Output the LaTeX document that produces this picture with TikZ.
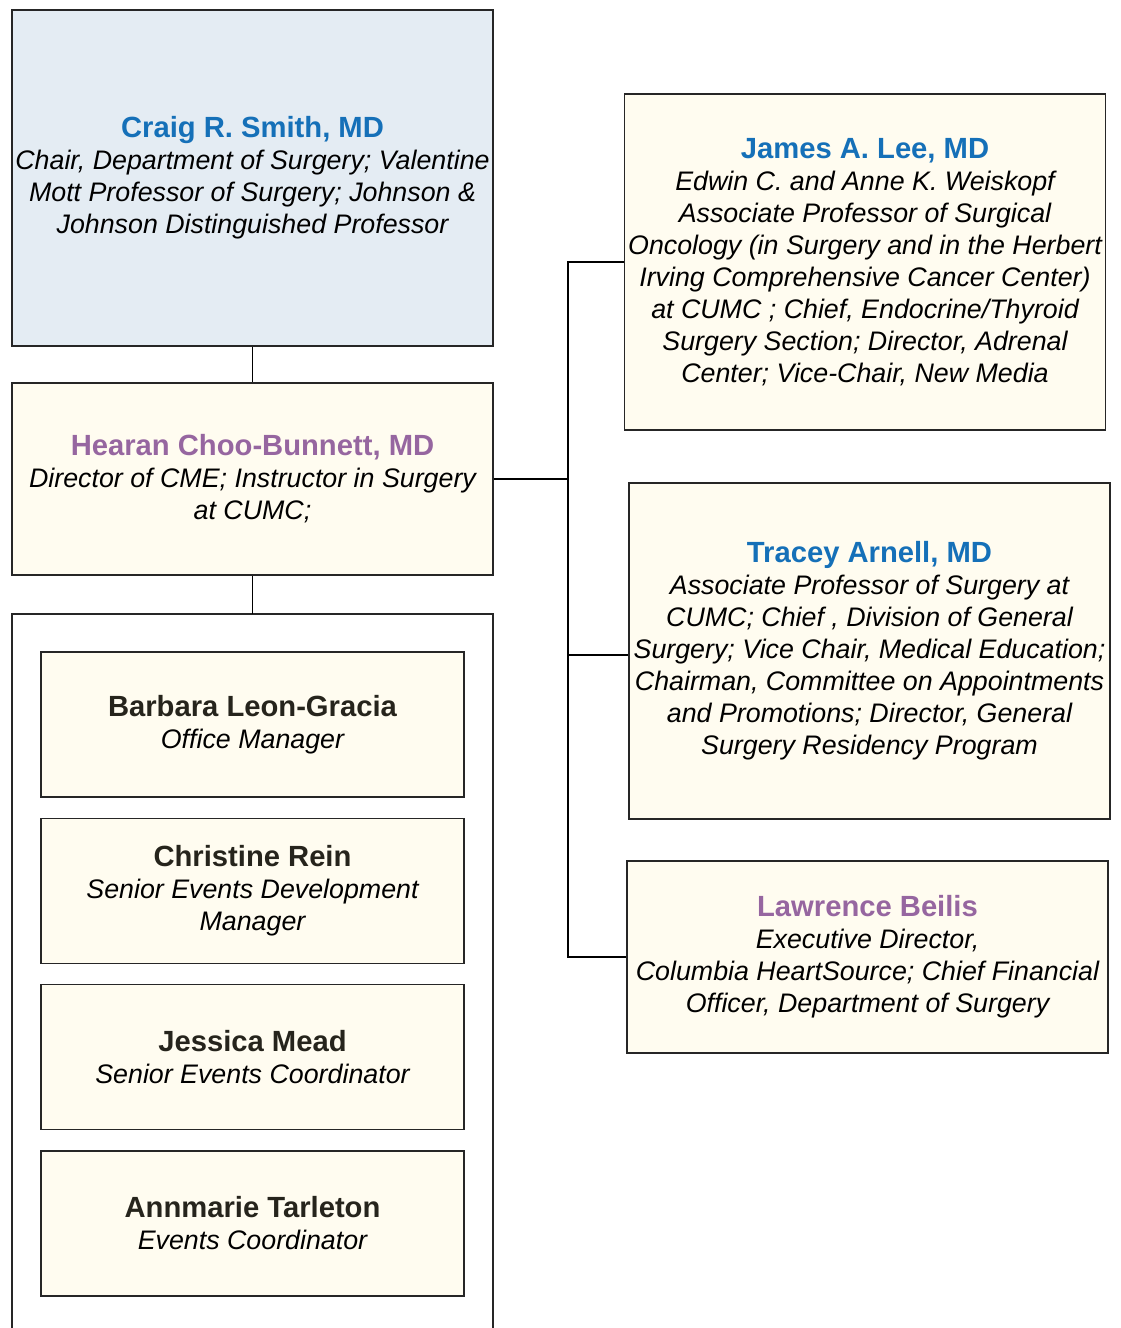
\documentclass[tikz,border=0pt]{standalone}
\usepackage{fontspec}
\setmainfont{Liberation Sans}
\usetikzlibrary{positioning}
\definecolor{chairfill}{RGB}{228,236,243}
\definecolor{boxfill}{RGB}{255,252,240}
\definecolor{nameblue}{RGB}{21,112,184}
\definecolor{namepurple}{RGB}{150,102,160}
\definecolor{namedark}{RGB}{38,36,28}
\newcommand{\pname}[2]{{\upshape\bfseries\fontsize{14.6}{16}\selectfont\color{#1}#2}}

\begin{document}
\begin{tikzpicture}[x=0.5pt,y=-0.5pt,
  every node/.style={draw=black!85, line width=0.8pt, fill=boxfill, inner sep=0pt, align=center,
    font=\itshape\fontsize{13.4}{16}\selectfont},
  bigbox/.style={minimum width=240.5pt, minimum height=168pt},
  midbox/.style={minimum width=240.5pt, minimum height=96pt},
  staffbox/.style={minimum width=211.5pt, minimum height=72.5pt},
  link/.style={draw=black, line width=0.8pt}]
\useasboundingbox (0,0) rectangle (1120,1328);
\node[bigbox, fill=chairfill] (Chair) at (252.5,178) {\pname{nameblue}{Craig R. Smith, MD}\\Chair, Department of Surgery; Valentine\\Mott Professor of Surgery; Johnson \&\\Johnson Distinguished Professor};
\node[midbox] (CME) at (252.5,479) {\pname{namepurple}{Hearan Choo-Bunnett, MD}\\Director of CME; Instructor in Surgery\\at CUMC;};
\node[bigbox] (Lee) at (865,262) {\pname{nameblue}{James A. Lee, MD}\\Edwin C. and Anne K. Weiskopf\\Associate Professor of Surgical\\Oncology (in Surgery and in the Herbert\\Irving Comprehensive Cancer Center)\\at CUMC ; Chief, Endocrine/Thyroid\\Surgery Section; Director, Adrenal\\Center; Vice-Chair, New Media};
\node[bigbox] (Arnell) at (869.5,651) {\pname{nameblue}{Tracey Arnell, MD}\\Associate Professor of Surgery at\\CUMC; Chief , Division of General\\Surgery; Vice Chair, Medical Education;\\Chairman, Committee on Appointments\\and Promotions; Director, General\\Surgery Residency Program};
\node[midbox] (Beilis) at (867.5,957) {\pname{namepurple}{Lawrence Beilis}\\Executive Director,\\Columbia HeartSource; Chief Financial\\Officer, Department of Surgery};
% staff group
\draw[draw=black!85, line width=0.8pt] (12,1340) -- (12,614) -- (493,614) -- (493,1340);
\coordinate (GroupTop) at (252.5,614);
\node[staffbox] (Leon) at (252.5,724.5) {\pname{namedark}{Barbara Leon-Gracia}\\Office Manager};
\node[staffbox] (Rein) at (252.5,891) {\pname{namedark}{Christine Rein}\\Senior Events Development\\Manager};
\node[staffbox] (Mead) at (252.5,1057) {\pname{namedark}{Jessica Mead}\\Senior Events Coordinator};
\node[staffbox] (Tarleton) at (252.5,1223.5) {\pname{namedark}{Annmarie Tarleton}\\Events Coordinator};
% connectors
\coordinate (Bus) at (568,479);
\coordinate (ArnellIn) at (568,655);
\draw[link] (Chair) -- (CME);
\draw[link] (CME) -- (GroupTop);
\draw[link] (CME.east) -- (Bus);
\draw[link] (Lee.west) -- (Lee.west -| Bus) -- (Beilis.west -| Bus) -- (Beilis.west);
\draw[link] (ArnellIn) -- (ArnellIn -| Arnell.west);
\end{tikzpicture}
\end{document}
